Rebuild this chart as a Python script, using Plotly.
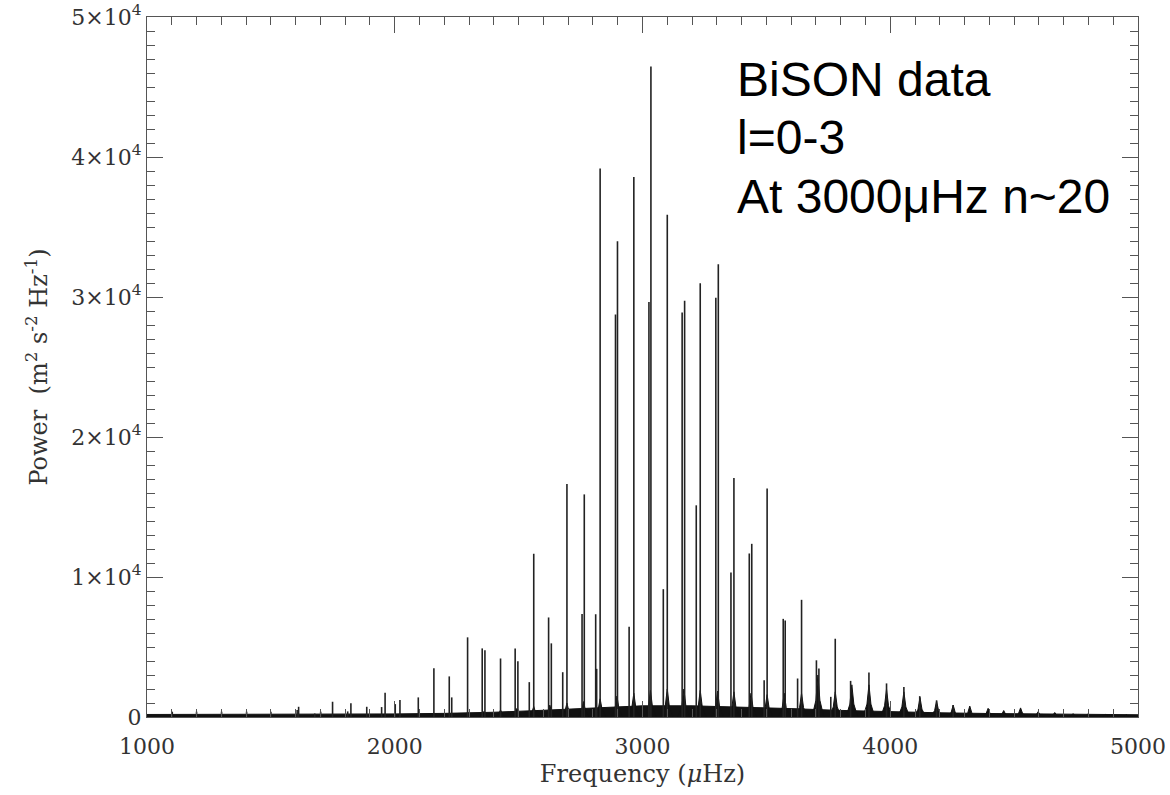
import plotly.graph_objects as go

# ---- data ----
# sharp mode peaks (frequency in microHz, power in m^2 s^-2 Hz^-1)
peak_freq = [1102, 1200, 1301, 1402, 1500, 1606, 1612, 1677, 1701, 1749, 1810, 1823,
             1887, 1947, 1961, 2002, 2021, 2095, 2158, 2220, 2230, 2294, 2353, 2364,
             2427, 2486, 2497, 2543, 2561, 2621, 2632, 2678, 2695, 2756, 2765, 2811,
             2815, 2829, 2891, 2899, 2946, 2965, 3026, 3034, 3084, 3100, 3160, 3170,
             3217, 3233, 3296, 3306, 3357, 3369, 3431, 3441, 3491, 3503, 3568, 3576,
             3626, 3642, 3702, 3712, 3760, 3778, 3840, 3914, 3985, 4055, 4119, 4187, 4254]
peak_power = [380, 380, 380, 380, 380, 500, 730, 250, 380, 1090, 400, 990,
              730, 710, 1730, 920, 1210, 1400, 3480, 2900, 1400, 5690, 4900, 4760,
              4180, 4900, 3980, 2490, 11660, 7110, 5260, 3200, 16640, 7360, 15900, 7340,
              3440, 39170, 28750, 33990, 6440, 38570, 29650, 46470, 9130, 35870, 28900, 29740,
              15120, 30990, 29940, 32340, 10330, 17070, 11680, 12370, 2630, 16320, 7010, 6890,
              2750, 8370, 4050, 3460, 1440, 5590, 2580, 3180, 2400, 2150, 1490, 1190, 850]

# broad bases of the modes
hump_freq = [2294, 2360, 2427, 2492, 2561, 2626, 2695, 2762, 2829, 2897, 2965, 3032,
             3100, 3167, 3233, 3303, 3369, 3438, 3503, 3572, 3642, 3708, 3778, 3845,
             3914, 3985, 4055, 4120, 4187, 4254, 4321, 4395, 4458, 4526, 4597, 4664,
             4738, 4798, 4870, 4953]
hump_power = [350, 400, 500, 600, 750, 850, 1000, 1100, 1300, 1500, 1700, 1900,
              2000, 2000, 1900, 1850, 1800, 1700, 1600, 1700, 1700, 3000, 1800, 2300,
              2300, 2000, 1800, 1400, 1150, 850, 780, 620, 460, 650, 380, 320,
              240, 220, 180, 160]

# noise floor envelope
floor_freq = [1000, 1400, 1800, 2000, 2200, 2400, 2600, 2800, 3000, 3200, 3400, 3600,
              3800, 4000, 4200, 4400, 4600, 4800, 5000]
floor_power = [180, 180, 200, 220, 260, 340, 480, 650, 800, 800, 720, 600,
               470, 370, 300, 250, 210, 180, 160]

x_ticks = [1000, 2000, 3000, 4000, 5000]
y_ticks = [0, 10000, 20000, 30000, 40000, 50000]
y_ticktext = ["0", "1×10<sup>4</sup>", "2×10<sup>4</sup>", "3×10<sup>4</sup>",
              "4×10<sup>4</sup>", "5×10<sup>4</sup>"]

note_lines = ["BiSON data", "l=0-3", "At 3000μHz n~20"]

# ---- build drawing paths ----
HW = 24  # half width of a hump, microHz (drawing style)
hx, hy = [], []
for f, p in zip(hump_freq, hump_power):
    hx += [f - HW, f - HW / 3, f, f + HW / 3, f + HW, None]
    hy += [0, 0.4 * p, p, 0.4 * p, 0, None]

sx, sy = [], []
for f, p in zip(peak_freq, peak_power):
    sx += [f, f, None]
    sy += [0, p, None]

INK = "#111111"
fig = go.Figure()
fig.add_trace(go.Scatter(x=floor_freq, y=floor_power, mode="lines", fill="tozeroy",
                         line=dict(color=INK, width=1), fillcolor=INK,
                         hoverinfo="skip", showlegend=False))
fig.add_trace(go.Scatter(x=hx, y=hy, mode="lines", fill="toself",
                         line=dict(color=INK, width=1), fillcolor=INK,
                         hoverinfo="skip", showlegend=False))
fig.add_trace(go.Scatter(x=sx, y=sy, mode="lines",
                         line=dict(color="#222222", width=1.6),
                         hoverinfo="skip", showlegend=False))

AX = "#555555"
tickfont = dict(family="DejaVu Serif", size=22, color="#333333")
titlefont = dict(family="DejaVu Serif", size=24, color="#333333")
fig.update_xaxes(range=[1000, 5000], tickvals=x_ticks, ticks="inside", ticklen=16,
                 tickcolor=AX, tickwidth=1, showline=True, linecolor=AX, linewidth=1,
                 mirror="ticks", showgrid=False, zeroline=False, tickfont=tickfont,
                 ticklabelstandoff=10, ticklabeloverflow="allow",
                 minor=dict(dtick=100, ticks="inside", ticklen=8, tickcolor=AX, showgrid=False),
                 title=dict(text="Frequency (<i>μ</i>Hz)", font=titlefont, standoff=6))
fig.update_yaxes(range=[0, 50000], tickvals=y_ticks, ticktext=y_ticktext, ticks="inside",
                 ticklen=16, tickcolor=AX, tickwidth=1, showline=True, linecolor=AX,
                 linewidth=1, mirror="ticks", showgrid=False, zeroline=False,
                 tickfont=tickfont, ticklabeloverflow="allow",
                 minor=dict(dtick=1000, ticks="inside", ticklen=8, tickcolor=AX, showgrid=False),
                 title=dict(text="Power  (m<sup>2</sup> s<sup>-2</sup> Hz<sup>-1</sup>)",
                            font=titlefont, standoff=16))

L, R, T, B = 147, 32, 17, 78
W, H = 1170, 795
pw, ph = W - L - R, H - T - B
x0 = (735 - L) / pw
for i, line in enumerate(note_lines):
    ycen = [80, 138, 196][i]
    fig.add_annotation(x=x0, y=1 - (ycen - T) / ph, xref="paper", yref="paper",
                       xanchor="left", yanchor="middle", text=line, showarrow=False,
                       font=dict(family="Liberation Sans", size=48, color="black"))

fig.update_layout(width=W, height=H, margin=dict(l=L, r=R, t=T, b=B, autoexpand=False),
                  paper_bgcolor="white", plot_bgcolor="white")

fig.write_html("out.html")
